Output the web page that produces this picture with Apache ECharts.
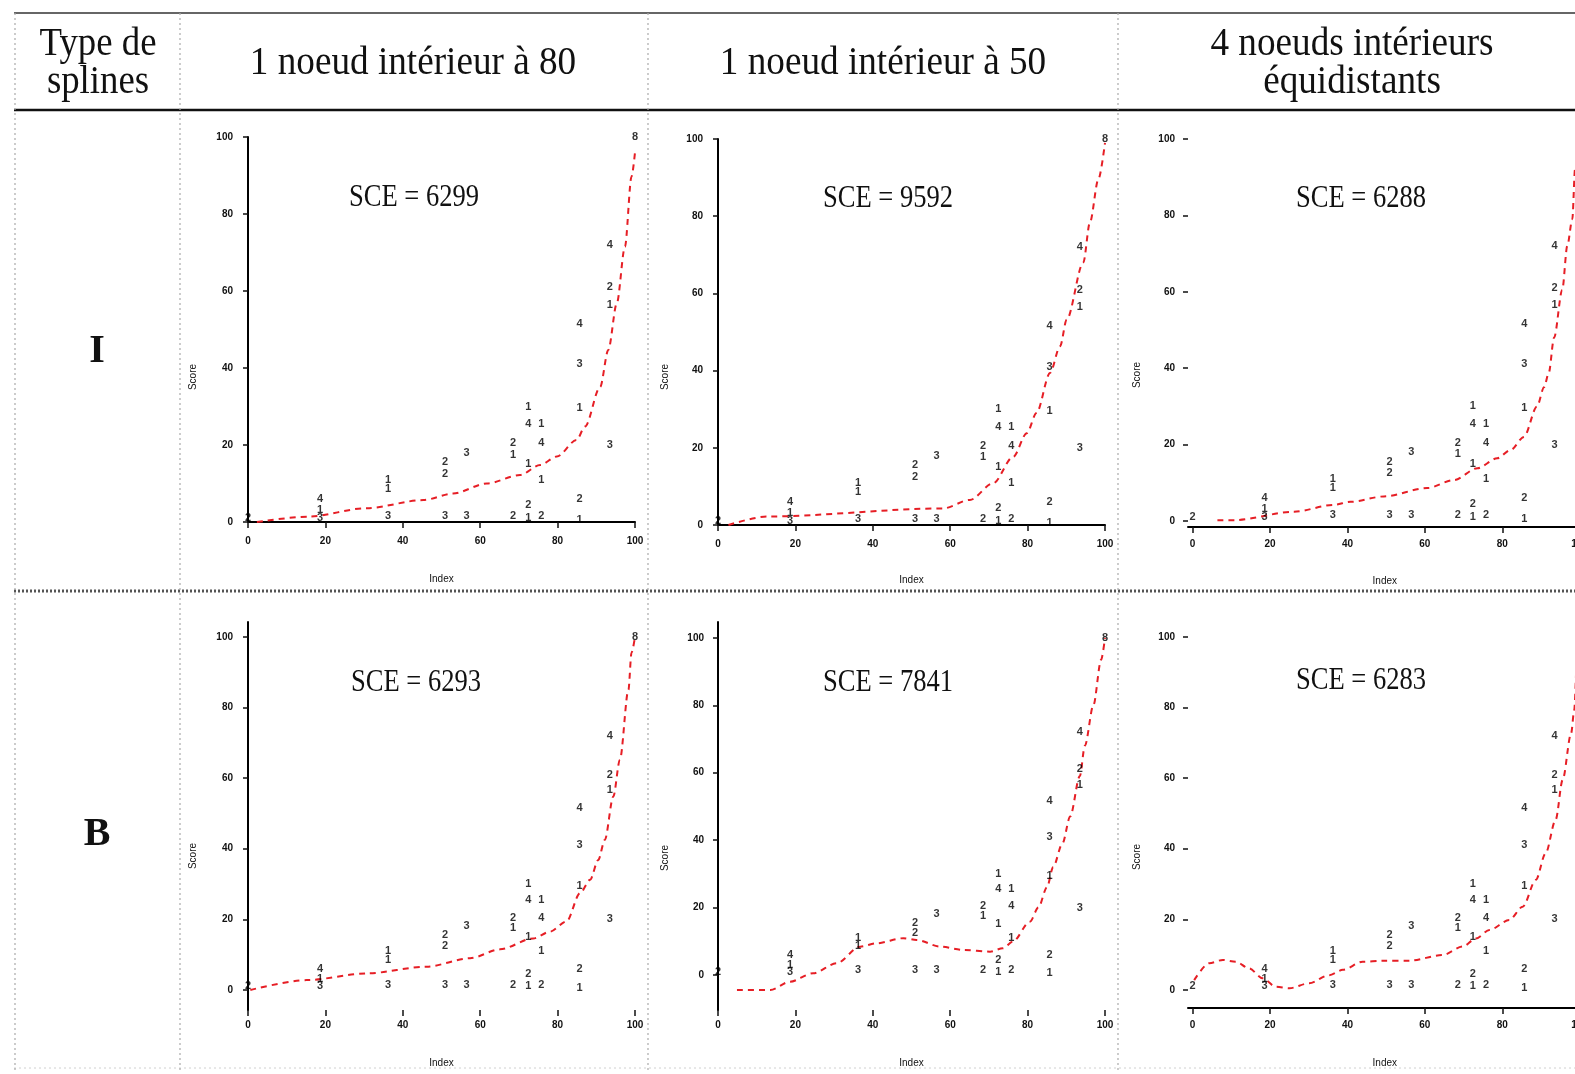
<!DOCTYPE html>
<html><head><meta charset="utf-8">
<script src="https://cdn.jsdelivr.net/npm/echarts@6/dist/echarts.min.js"></script>
<style>html,body{margin:0;padding:0;background:#fff}#c{width:1575px;height:1074px}</style>
</head><body><div id="c"></div>
<script>
// ---------- data ----------
const xTicks = [0, 20, 40, 60, 80, 100];
const yTicks = [0, 20, 40, 60, 80, 100];
const cornerTitle = 'Type de\nsplines';
const columnTitles = ['1 noeud intérieur à 80', '1 noeud intérieur à 50', '4 noeuds intérieurs\néquidistants'];
const rowTitles = ['I', 'B'];
const sceLabels = ['SCE = 6299', 'SCE = 9592', 'SCE = 6288', 'SCE = 6293', 'SCE = 7841', 'SCE = 6283'];

// observations (Index, Score, count shown as digit)
const pointIndex = [0, 18.6, 18.6, 18.6, 36.2, 36.2, 36.2, 50.9, 50.9, 50.9, 56.5, 56.5, 68.5, 68.5, 68.5, 72.4, 72.4, 72.4, 72.4, 72.4, 75.8, 75.8, 75.8, 75.8, 85.7, 85.7, 85.7, 85.7, 85.7, 93.5, 93.5, 93.5, 93.5, 100];
const pointScore = [1, 6, 3, 1, 11, 8.5, 1.5, 15.5, 12.5, 1.5, 18, 1.5, 20.5, 17.5, 1.5, 30, 25.5, 15, 4.5, 1, 25.5, 20.5, 11, 1.5, 51.5, 41, 29.5, 6, 0.5, 72, 61, 56.5, 20, 100];
const pointCount = ['2', '4', '1', '3', '1', '1', '3', '2', '2', '3', '3', '3', '2', '1', '2', '1', '4', '1', '2', '1', '1', '4', '1', '2', '4', '3', '1', '2', '1', '4', '2', '1', '3', '8'];

// fitted splines
const fitI80Index = [2.3, 15.6, 30.7, 45.3, 53, 61.7, 70.3, 75.5, 79.8, 84.9, 87.1, 91, 93.1, 95.3, 97.4, 99.1, 100];
const fitI80Score = [0, 1.4, 3.6, 5.7, 7.4, 10, 12.2, 14.8, 17, 21.3, 24.8, 35.1, 44.7, 56.8, 71.5, 89.7, 96];
const fitI50Index = [2.7, 12.6, 58.2, 65.1, 71.1, 76.3, 79.8, 82.3, 85.8, 88.4, 90.1, 94.4, 96.1, 98.3, 100];
const fitI50Score = [0, 2.2, 4.3, 6.5, 10.8, 17.7, 23.8, 29, 39.4, 46.3, 53.2, 68, 78.4, 89.6, 99];
const fitI4Index = [6.4, 10.7, 26.2, 36.5, 40.8, 49.4, 60.6, 67.5, 73.6, 78.7, 82.2, 85.6, 89, 90.8, 92, 93.4, 95.5, 96.8, 98.1, 98.8, 100];
const fitI4Score = [0.2, 0.2, 2.4, 4.2, 5, 6.4, 8.6, 10.7, 13.8, 16.4, 18.6, 22, 30, 35, 38.7, 48, 60.5, 72, 79, 92, 100];
const fitB80Index = [0.6, 15.2, 30.7, 46.2, 57.4, 65.1, 73.7, 78, 82.3, 85.8, 88.4, 90.5, 92.2, 94.4, 96.1, 98.3, 99.1, 100];
const fitB80Score = [0, 2.8, 4.7, 6.6, 9, 11.5, 14.6, 16.5, 19.4, 27.4, 31.2, 36.8, 42.5, 54.8, 65.2, 85, 95.5, 100];
const fitB50Index = [4.9, 13.5, 18.6, 24.6, 30.7, 36.7, 41, 47.9, 51.3, 57.4, 63.4, 70.3, 73.6, 76.2, 80.6, 82.8, 85, 86.6, 89, 91, 93.5, 94.8, 97, 99, 100];
const fitB50Score = [-4.5, -4.5, -2, 0.5, 3.5, 8.4, 9.4, 10.9, 10.4, 8.4, 7.4, 6.9, 7.9, 9.9, 15.8, 20, 26, 32, 39, 47, 59, 68, 80, 93.5, 100];
const fitB4Index = [0.4, 4.3, 7.8, 11.2, 14.6, 18.1, 21.5, 25, 30.1, 35.3, 38.8, 43.9, 49.1, 56, 64.6, 69.8, 73.2, 76.7, 81.8, 85.3, 88.7, 91.2, 93.8, 95.6, 97.8, 98.6, 99.2];
const fitB4Score = [2.8, 7.6, 8.5, 8, 6.1, 3.3, 0.9, 0.5, 1.9, 4.2, 5.7, 8, 8.3, 8.3, 9.9, 12.3, 14.6, 17, 19.8, 23.6, 31.2, 38.7, 48.2, 59.5, 72.7, 79.3, 94];

// ---------- layout ----------
const fits = [[fitI80Index, fitI80Score], [fitI50Index, fitI50Score], [fitI4Index, fitI4Score],
              [fitB80Index, fitB80Score], [fitB50Index, fitB50Score], [fitB4Index, fitB4Score]];
const panels = [
  {left: 248, top: 137, width: 387, height: 385, xMin: 0, xMax: 100, yMin: 0, yMax: 100, xLine: true, yLine: true, xMargin: 14, xGap: 52, yMargin: 15, score: [193, 377], sce: [414, 198]},
  {left: 718, top: 139, width: 387, height: 386, xMin: 0, xMax: 100, yMin: 0, yMax: 100, xLine: true, yLine: true, xMargin: 14, xGap: 50, yMargin: 15, score: [665, 377], sce: [888, 199]},
  {left: 1188, top: 136, width: 393.6, height: 391, xMin: -1.2, xMax: 100.5, yMin: -1.6, yMax: 100.8, xLine: true, yLine: false, xMargin: 12, xGap: 49, yMargin: 13, score: [1137, 375], sce: [1361, 199]},
  {left: 248, top: 622, width: 387, height: 388, xMin: 0, xMax: 100, yMin: -5.67, yMax: 104.2, xLine: false, yLine: true, xMargin: 10, xGap: 48, yMargin: 15, score: [193, 856], sce: [416, 683]},
  {left: 718, top: 622, width: 387, height: 388, xMin: 0, xMax: 100, yMin: -10.4, yMax: 104.7, xLine: false, yLine: true, xMargin: 10, xGap: 48, yMargin: 14, score: [665, 858], sce: [888, 683]},
  {left: 1188, top: 622, width: 393.6, height: 386, xMin: -1.2, xMax: 100.5, yMin: -5.1, yMax: 104.2, xLine: true, yLine: false, xMargin: 12, xGap: 50, yMargin: 13, score: [1137, 857], sce: [1361, 681]}
];

const tickFont = {color: '#111', fontSize: 10, fontWeight: 'bold', fontFamily: 'Liberation Sans'};
const nameFont = {color: '#111', fontSize: 10, fontFamily: 'Liberation Sans'};
const serif = '"Liberation Serif", "DejaVu Serif", serif';

const series = [];
panels.forEach((p, i) => {
  const f = fits[i];
  series.push({
    type: 'line', xAxisIndex: i, yAxisIndex: i, z: 2, silent: true,
    data: f[0].map((x, k) => [x, f[1][k]]),
    showSymbol: false, smooth: 0.3, smoothMonotone: 'x', clip: true,
    lineStyle: {color: '#e61e25', width: 2, type: [6, 5]}
  });
  series.push({
    type: 'scatter', xAxisIndex: i, yAxisIndex: i, z: 3, silent: true, clip: false,
    data: pointIndex.map((x, k) => [x, pointScore[k], pointCount[k]]),
    symbolSize: 2, itemStyle: {color: 'rgba(0,0,0,0)'},
    label: {show: true, position: 'inside', formatter: q => q.value[2],
            color: '#000', fontSize: 11, fontWeight: 'bold', fontFamily: 'Liberation Sans'}
  });
});

const elements = [];
// table rules
elements.push({type: 'line', shape: {x1: 14, y1: 13, x2: 1575, y2: 13}, style: {stroke: '#333', lineWidth: 1.5}});
elements.push({type: 'line', shape: {x1: 14, y1: 110, x2: 1575, y2: 110}, style: {stroke: '#111', lineWidth: 2.5}});
elements.push({type: 'line', shape: {x1: 14, y1: 591, x2: 1575, y2: 591}, style: {stroke: '#555', lineWidth: 3, lineDash: [2, 2]}});
elements.push({type: 'line', shape: {x1: 14, y1: 1068, x2: 1575, y2: 1068}, style: {stroke: '#d0d0d0', lineWidth: 1, lineDash: [2, 3]}});
[15, 180, 648, 1118].forEach(x => {
  elements.push({type: 'line', shape: {x1: x, y1: 13, x2: x, y2: 1070}, style: {stroke: '#aaa', lineWidth: 1.2, lineDash: [2, 3]}});
});
// headers
const headerText = (text, x, y, size, weight, sx) => ({
  type: 'text', x: x, y: y, scaleX: sx, z: 10,
  style: {text: text, font: weight + ' ' + size + 'px ' + serif, fill: '#111',
          textAlign: 'center', textVerticalAlign: 'middle', lineHeight: 38}
});
elements.push(headerText(cornerTitle, 98, 63, 40, 'normal', 0.92));
[413, 883, 1352].forEach((x, j) => elements.push(headerText(columnTitles[j], x, 63, 40, 'normal', 0.93)));
elements.push(headerText(rowTitles[0], 97, 352, 40, 'bold', 1));
elements.push(headerText(rowTitles[1], 97, 835, 40, 'bold', 1));
panels.forEach((p, i) => {
  elements.push(headerText(sceLabels[i], p.sce[0], p.sce[1], 32, 'normal', 0.83));
  elements.push({type: 'text', x: p.score[0], y: p.score[1], rotation: Math.PI / 2, z: 10,
    style: {text: 'Score', font: '10px "Liberation Sans"', fill: '#111', textAlign: 'center', textVerticalAlign: 'middle'}});
});

const option = {
  animation: false,
  backgroundColor: '#fff',
  grid: panels.map(p => ({left: p.left, top: p.top, width: p.width, height: p.height, containLabel: false, outerBoundsMode: 'none'})),
  xAxis: panels.map((p, i) => ({
    gridIndex: i, type: 'value', min: p.xMin, max: p.xMax,
    axisLine: {show: p.xLine, onZero: false, lineStyle: {color: '#000', width: 2}},
    axisTick: {show: true, length: 6, customValues: xTicks, lineStyle: {color: '#111', width: 1.5}},
    axisLabel: Object.assign({customValues: xTicks, margin: p.xMargin}, tickFont),
    splitLine: {show: false},
    name: 'Index', nameLocation: 'middle', nameGap: p.xGap, nameTextStyle: nameFont
  })),
  yAxis: panels.map((p, i) => ({
    gridIndex: i, type: 'value', min: p.yMin, max: p.yMax,
    axisLine: {show: p.yLine, onZero: false, lineStyle: {color: '#000', width: 2}},
    axisTick: {show: true, length: 5, customValues: yTicks, lineStyle: {color: '#111', width: 1.5}},
    axisLabel: Object.assign({customValues: yTicks, margin: p.yMargin}, tickFont),
    splitLine: {show: false}
  })),
  series: series,
  graphic: {elements: elements}
};

const chart = echarts.init(document.getElementById('c'), null, {renderer: 'canvas'});
chart.setOption(option);
</script>
</body></html>
